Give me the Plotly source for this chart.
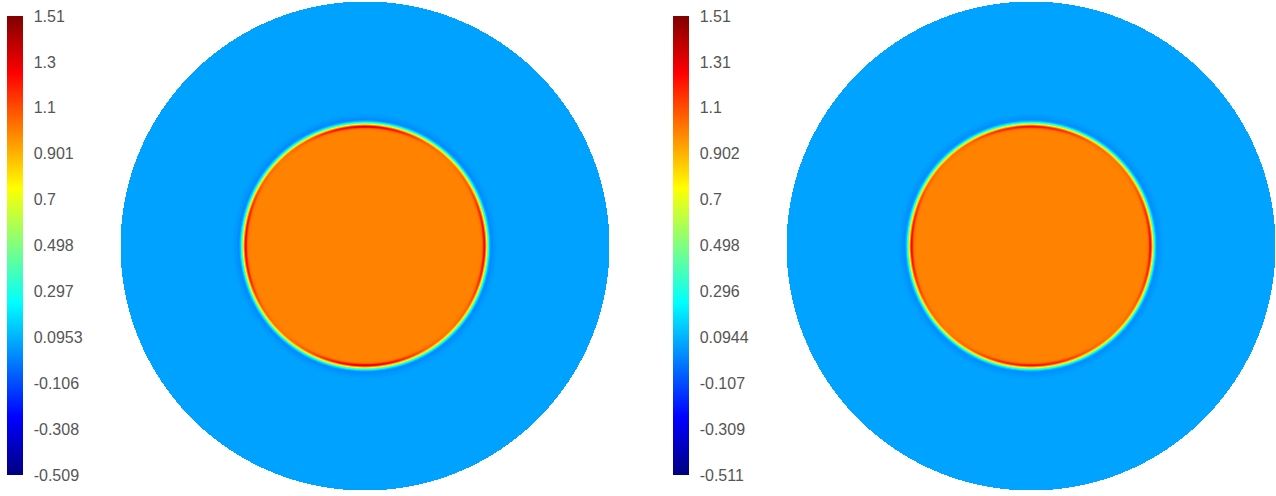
import numpy as np
import plotly.graph_objects as go

# ---- data ----
left_ticks = ["1.51", "1.3", "1.1", "0.901", "0.7", "0.498", "0.297", "0.0953", "-0.106", "-0.308", "-0.509"]
right_ticks = ["1.51", "1.31", "1.1", "0.902", "0.7", "0.498", "0.296", "0.0944", "-0.107", "-0.309", "-0.511"]
left_range = [-0.509, 1.51]
right_range = [-0.511, 1.51]

# radial profile of the field (r normalised to the outer radius)
profile_r = [0.0, 0.470, 0.482, 0.490, 0.497, 0.503, 0.509, 0.516, 0.526, 0.545, 1.0]
left_profile_v = [1.00, 1.00, 1.01, 1.03, 0.80, 0.40, 0.15, 0.01, 0.04, 0.065, 0.065]
right_profile_v = [1.00, 1.00, 1.01, 1.03, 0.80, 0.40, 0.15, 0.02, 0.04, 0.065, 0.065]
# extra overshoot of the red rim by angle (degrees)
rim_angles = [0, 15, 30, 45, 60, 75, 90, 105, 120, 135, 150, 165, 180,
              195, 210, 225, 240, 255, 270, 285, 300, 315, 330, 345, 360]
left_rim_boost = [0.25, 0.18, 0.05, 0.0, 0.05, 0.20, 0.30, 0.20, 0.05, 0.0, 0.05, 0.18, 0.25,
                  0.18, 0.05, 0.0, 0.05, 0.20, 0.30, 0.20, 0.05, 0.0, 0.05, 0.18, 0.25]
right_rim_boost = [0.25, 0.15, 0.04, 0.0, 0.04, 0.15, 0.22, 0.15, 0.04, 0.0, 0.04, 0.15, 0.25,
                   0.15, 0.04, 0.0, 0.04, 0.15, 0.22, 0.15, 0.04, 0.0, 0.04, 0.15, 0.25]

jet = [[0.0, "rgb(0,0,128)"], [0.125, "rgb(0,0,255)"], [0.375, "rgb(0,255,255)"],
       [0.625, "rgb(255,255,0)"], [0.875, "rgb(255,0,0)"], [1.0, "rgb(128,0,0)"]]

N = 490
g = np.linspace(-1, 1, N)
X, Y = np.meshgrid(g, g)
R = np.hypot(X, Y)
TH = (np.degrees(np.arctan2(Y, X)) + 360) % 360


def field(vals, boost):
    z = np.interp(R, profile_r, vals)
    b = np.interp(TH, rim_angles, boost)
    rim = np.exp(-((R - 0.488) / 0.006) ** 2)
    z = z + b * rim
    z[R > 1.0] = np.nan
    return np.round(z, 3)


zl = field(left_profile_v, left_rim_boost)
zr = field(right_profile_v, right_rim_boost)

W, H = 1276, 496


def cbar(ticks, rng, x0):
    return dict(
        x=x0 / W, xanchor="left", y=(H - 245.5) / H, yanchor="middle",
        len=459 / H, thickness=16, xpad=0, ypad=0, outlinewidth=0,
        tickvals=list(np.linspace(rng[1], rng[0], len(ticks))), ticktext=ticks,
        ticks="outside", ticklen=8, tickcolor="rgba(0,0,0,0)",
        tickfont=dict(family="Liberation Sans, Arial", size=16, color="#555"),
    )


fig = go.Figure()
fig.add_trace(go.Heatmap(x=g, y=g, z=zl, colorscale=jet, zmin=left_range[0], zmax=left_range[1],
                         colorbar=cbar(left_ticks, left_range, 7), xaxis="x", yaxis="y",
                         hoverinfo="skip"))
fig.add_trace(go.Heatmap(x=g, y=g, z=zr, colorscale=jet, zmin=right_range[0], zmax=right_range[1],
                         colorbar=cbar(right_ticks, right_range, 673), xaxis="x2", yaxis="y2",
                         hoverinfo="skip"))

ax = dict(visible=False, range=[-1, 1], showgrid=False, zeroline=False)
fig.update_layout(
    width=W, height=H, margin=dict(l=0, r=0, t=0, b=0),
    paper_bgcolor="white", plot_bgcolor="white",
    xaxis=dict(ax, domain=[121 / W, 609 / W]),
    yaxis=dict(ax, domain=[(H - 490) / H, (H - 1) / H]),
    xaxis2=dict(ax, domain=[787 / W, 1275 / W]),
    yaxis2=dict(ax, domain=[(H - 490) / H, (H - 1) / H]),
)
fig.write_html("out.html")
